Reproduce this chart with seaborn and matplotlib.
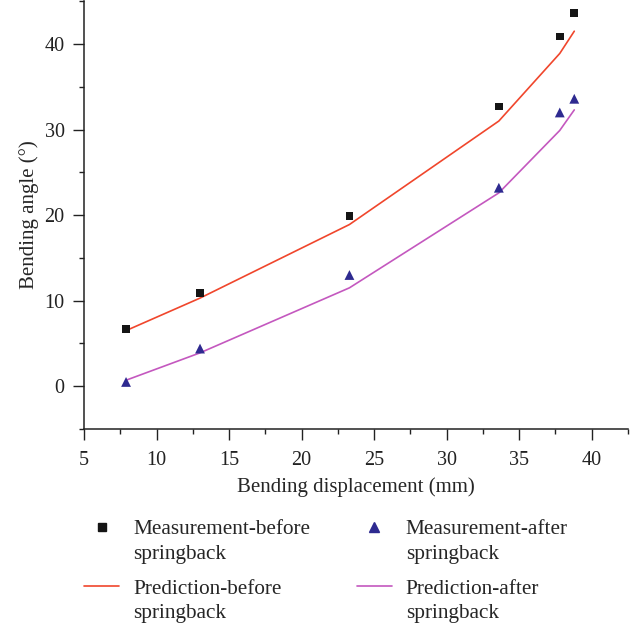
import numpy as np
import pandas as pd
import matplotlib
matplotlib.use("Agg")
import matplotlib.pyplot as plt
import seaborn as sns
from matplotlib.ticker import MultipleLocator
from matplotlib.lines import Line2D

displacement = [7.9, 13.0, 23.3, 33.6, 37.8, 38.8]
meas_before = [6.7, 10.9, 19.9, 32.7, 40.9, 43.6]
meas_after = [0.5, 4.4, 13.0, 23.2, 32.0, 33.6]
pred_before = [6.5, 10.3, 18.9, 31.0, 38.9, 41.5]
pred_after = [0.7, 3.9, 11.5, 22.6, 29.9, 32.3]

red = '#f0462c'
pink = '#c458bf'
navy = '#2e2a90'
black = '#151515'

sns.set_theme(style="ticks")
plt.rcParams['font.family'] = ['Liberation Serif', 'DejaVu Serif']
plt.rcParams['font.size'] = 14

fig = plt.figure(figsize=(6.43, 6.29), dpi=100)
ax = fig.add_axes([0.1306, 0.318, 0.846, 0.680])

sns.lineplot(x=displacement, y=pred_before, ax=ax, color=red, lw=1.2)
sns.lineplot(x=displacement, y=pred_after, ax=ax, color=pink, lw=1.2)
sns.scatterplot(x=displacement, y=meas_before, ax=ax, marker='s', color=black,
                s=30, edgecolor='none', zorder=3)
sns.scatterplot(x=displacement, y=meas_after, ax=ax, marker='^', color=navy,
                s=50, edgecolor='none', zorder=3)

ax.set_xlim(5, 42.5)
ax.set_ylim(-5, 45)
ax.xaxis.set_major_locator(MultipleLocator(5))
ax.xaxis.set_minor_locator(MultipleLocator(2.5))
ax.yaxis.set_major_locator(MultipleLocator(10))
ax.yaxis.set_minor_locator(MultipleLocator(5))
ax.set_xticks([5, 10, 15, 20, 25, 30, 35, 40])
ax.set_yticks([0, 10, 20, 30, 40])
ax.tick_params(which='major', direction='out', length=8, width=1, labelsize=14.5,
               colors='#222222', pad=6)
ax.tick_params(axis='x', which='major', pad=8)
ax.tick_params(which='minor', direction='out', length=3.6, width=1, colors='#222222')
for s in ['left', 'bottom']:
    ax.spines[s].set_linewidth(1.1)
    ax.spines[s].set_color('#222222')
sns.despine(ax=ax)

ax.set_xlabel('Bending displacement (mm)', fontsize=15, labelpad=5)
ax.set_ylabel('Bending angle (°)', fontsize=15, labelpad=4)

blank = Line2D([], [], linestyle='none')
sq = Line2D([], [], linestyle='none', marker='s', color=black, markersize=5.5)
tri = Line2D([], [], linestyle='none', marker='^', color=navy, markersize=7)
ln_b = Line2D([], [], color=red, lw=1.2)
ln_a = Line2D([], [], color=pink, lw=1.2)

# one small legend per quadrant so the columns line up like the original
leg_kw = dict(loc='upper left', frameon=False, fontsize=15.3, handlelength=1.66,
              handletextpad=0.65, labelspacing=0.22, borderpad=0, borderaxespad=0)
entries = [
    (sq, 'Measurement-before', 0.1306, 0.174),
    (tri, 'Measurement-after', 0.5547, 0.174),
    (ln_b, 'Prediction-before', 0.1306, 0.080),
    (ln_a, 'Prediction-after', 0.5547, 0.080),
]
for handle, text, lx, ly in entries:
    fig.legend([handle, blank], [text, 'springback'], bbox_to_anchor=(lx, ly), **leg_kw)

fig.savefig('out.png', dpi=100)
